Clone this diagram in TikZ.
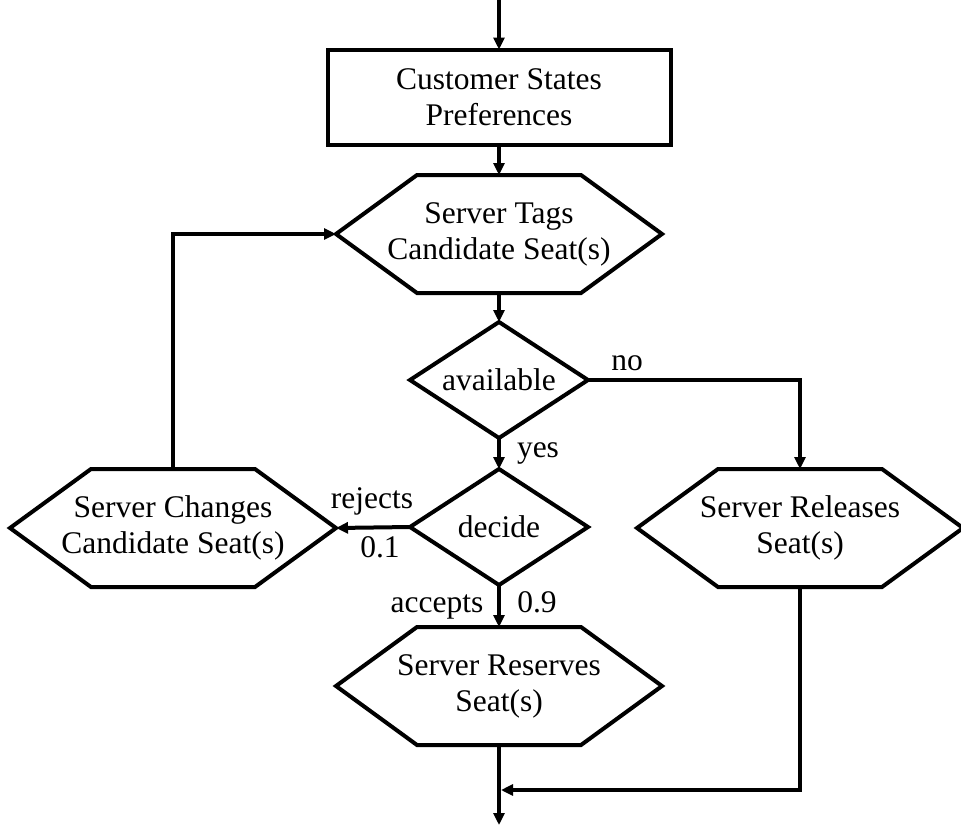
\documentclass[tikz,border=0pt]{standalone}
\usepackage{fontspec}
\setmainfont{Liberation Serif}
\usetikzlibrary{shapes.geometric,arrows.meta}
\newcommand\hexframe[1]{\draw[frame] ([xshift=81pt]#1.north west) -- ([xshift=-81pt]#1.north east) -- (#1.east) -- ([xshift=-81pt]#1.south east) -- ([xshift=81pt]#1.south west) -- (#1.west) -- cycle;}
\begin{document}
\begin{tikzpicture}[x=1pt,y=-1pt,
  every node/.style={font=\fontsize{31.5}{36}\selectfont},
  frame/.style={line width=4pt,line join=miter},
  arr/.style={line width=4pt,-{Triangle[length=12pt,width=11pt]}},
  boxnode/.style={draw,line width=4pt,rectangle,minimum width=343pt,minimum height=95pt,align=center,inner sep=0pt,outer sep=0pt},
  hexnode/.style={rectangle,minimum width=326pt,minimum height=118pt,align=center,inner sep=0pt,outer sep=0pt},
  decnode/.style={draw,line width=4pt,diamond,aspect=1.55,minimum width=178pt,minimum height=116pt,inner sep=0pt,outer sep=0pt,align=center},
  lbl/.style={inner sep=0pt,anchor=base}
]
\useasboundingbox (0,0) rectangle (961,825);
\coordinate (start) at (499,0);
\node[boxnode] (cust) at (499,97) {Customer States\\Preferences};
\node[hexnode] (tags) at (499,234) {Server Tags\\Candidate Seat(s)};
\node[decnode] (avail) at (499,380) {available};
\node[decnode] (decide) at (499,527) {decide};
\node[hexnode] (change) at (173,528) {Server Changes\\Candidate Seat(s)};
\node[hexnode] (release) at (800,528) {Server Releases\\Seat(s)};
\node[hexnode] (reserve) at (499,686) {Server Reserves\\Seat(s)};
\hexframe{tags}
\hexframe{change}
\hexframe{release}
\hexframe{reserve}
\coordinate (finish) at (499,825);
\coordinate (merge) at (501,790);

\draw[arr] (start) -- (cust.north);
\draw[arr] (cust.south) -- (tags.north);
\draw[arr] (tags.south) -- (avail.north);
\draw[arr] (avail.south) -- (decide.north);
\draw[arr] (avail.east) -| (release.north);
\draw[arr] (decide.west) -- (change.east);
\draw[arr] (decide.south) -- (reserve.north);
\draw[arr] (change.north) |- (tags.west);
\draw[arr] (reserve.south) -- (finish);
\draw[arr] (release.south) |- (merge);

\node[lbl] (lno) at (627,370) {no};
\node[lbl] (lyes) at (538,457) {yes};
\node[lbl] (lrej) at (372,508) {rejects};
\node[lbl] (l01) at (380,557) {0.1};
\node[lbl] (lacc) at (437,612) {accepts};
\node[lbl] (l09) at (537,612) {0.9};
\end{tikzpicture}
\end{document}
